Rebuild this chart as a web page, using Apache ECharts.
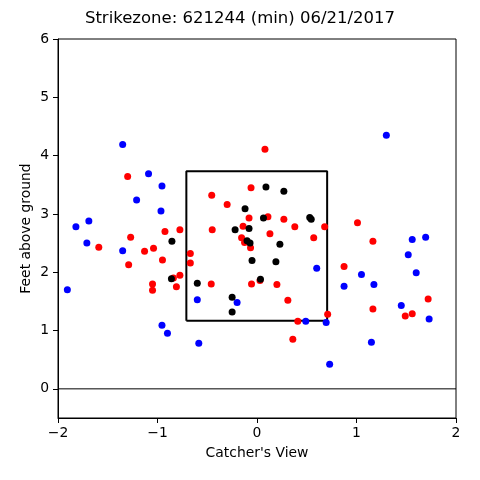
<!DOCTYPE html>
<html>
<head>
<meta charset="utf-8">
<script src="https://cdn.jsdelivr.net/npm/echarts@6/dist/echarts.min.js"></script>
<style>
html,body{margin:0;padding:0;background:#fff;}
#chart{width:480px;height:480px;}
</style>
</head>
<body>
<div id="chart"></div>
<script>
// Pitch locations [x (ft), height (ft)]
var bluePitches = [
  [-1.906,1.70],[-1.82,2.78],[-1.69,2.88],[-1.71,2.50],[-1.35,4.19],[-1.35,2.37],
  [-1.21,3.24],[-1.09,3.69],[-0.955,3.48],[-0.965,3.05],[-0.955,1.09],[-0.90,0.955],
  [-0.60,1.53],[-0.585,0.78],[-0.20,1.48],[0.60,2.07],[0.49,1.16],[0.695,1.14],
  [0.73,0.42],[1.30,4.35],[1.56,2.56],[1.695,2.60],[1.52,2.30],[1.05,1.96],
  [0.875,1.76],[1.175,1.79],[1.60,1.99],[1.45,1.43],[1.73,1.20],[1.15,0.80]
];
var redPitches = [
  [-1.30,3.64],[-1.59,2.43],[-1.27,2.60],[-1.13,2.36],[-1.04,2.41],[-0.925,2.70],
  [-0.775,2.73],[-0.95,2.21],[-1.29,2.13],[-0.67,2.32],[-0.67,2.16],[-0.775,1.95],
  [-1.05,1.80],[-1.05,1.69],[-0.81,1.75],[-0.84,1.90],[0.08,4.11],[-0.06,3.45],
  [-0.455,3.32],[-0.30,3.16],[-0.08,2.93],[0.11,2.95],[0.27,2.91],[0.38,2.78],
  [0.68,2.78],[-0.45,2.73],[-0.14,2.79],[0.13,2.66],[-0.155,2.59],[-0.125,2.51],
  [-0.065,2.42],[0.57,2.59],[-0.46,1.80],[-0.055,1.80],[0.03,1.86],[0.20,1.79],
  [0.31,1.52],[0.41,1.16],[0.36,0.85],[0.71,1.28],[1.01,2.85],[1.165,2.53],
  [0.875,2.10],[1.165,1.37],[1.72,1.54],[1.49,1.25],[1.56,1.29]
];
var blackPitches = [
  [-0.855,2.53],[-0.86,1.89],[-0.60,1.81],[0.09,3.46],[0.27,3.39],[-0.12,3.09],
  [0.065,2.93],[0.53,2.94],[0.545,2.91],[-0.22,2.73],[-0.08,2.75],[-0.10,2.54],
  [-0.07,2.50],[0.23,2.48],[-0.05,2.20],[0.19,2.18],[0.035,1.88],[-0.25,1.57],
  [-0.25,1.32]
];
var zoneLeft = -0.71, zoneRight = 0.705, zoneBottom = 1.17, zoneTop = 3.73;
var groundLine = [[-2,0],[2,0]];
var xTicks = [-2,-1,0,1,2];
var yTicks = [0,1,2,3,4,5,6];
var titleText = 'Strikezone: 621244 (min) 06/21/2017';

var zoneBox = [[zoneLeft,zoneBottom],[zoneRight,zoneBottom],[zoneRight,zoneTop],[zoneLeft,zoneTop],[zoneLeft,zoneBottom]];
var font = 'DejaVu Sans';
function fmt(v){ return v < 0 ? '\u2212' + Math.abs(v) : String(v); }

var chart = echarts.init(document.getElementById('chart'));
chart.setOption({
  animation:false,
  backgroundColor:'#fff',
  title:{text:titleText,left:'center',top:5,textStyle:{fontFamily:font,fontSize:16.5,fontWeight:'normal',color:'#000'}},
  grid:{left:58,right:24,top:39,bottom:62,show:true,borderColor:'#000',borderWidth:1,containLabel:false},
  xAxis:{type:'value',min:-2,max:2,interval:1,
    name:"Catcher's View",nameLocation:'middle',nameGap:28,nameMoveOverlap:false,
    nameTextStyle:{fontFamily:font,fontSize:13.9,color:'#000'},
    axisLine:{show:true,onZero:false,lineStyle:{color:'#000',width:1}},
    axisTick:{show:true,length:5,lineStyle:{color:'#000'}},
    axisLabel:{margin:8,fontFamily:font,fontSize:13.9,color:'#000',formatter:fmt},
    splitLine:{show:false}},
  yAxis:{type:'value',min:-0.5,max:6,
    name:'Feet above ground',nameLocation:'middle',nameGap:25,nameRotate:90,nameMoveOverlap:false,
    nameTextStyle:{fontFamily:font,fontSize:13.9,color:'#000'},
    axisLine:{show:true,onZero:false,lineStyle:{color:'#000',width:1}},
    axisTick:{show:true,length:5,customValues:yTicks,lineStyle:{color:'#000'}},
    axisLabel:{margin:9,fontFamily:font,fontSize:13.9,color:'#000',customValues:yTicks,formatter:fmt},
    splitLine:{show:false}},
  series:[
    {type:'line',data:groundLine,symbol:'none',lineStyle:{color:'#000',width:1},silent:true,z:1},
    {type:'line',data:zoneBox,symbol:'none',lineStyle:{color:'#000',width:2},silent:true,z:1},
    {type:'scatter',data:bluePitches,symbol:'circle',symbolSize:7,itemStyle:{color:'#0000ff',opacity:1},z:3},
    {type:'scatter',data:redPitches,symbol:'circle',symbolSize:7,itemStyle:{color:'#ff0000',opacity:1},z:3},
    {type:'scatter',data:blackPitches,symbol:'circle',symbolSize:7,itemStyle:{color:'#000000',opacity:1},z:3}
  ]
});
</script>
</body>
</html>
